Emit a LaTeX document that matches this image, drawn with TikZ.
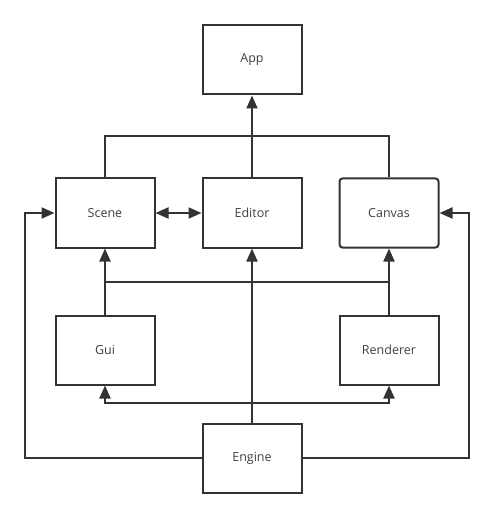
\documentclass[tikz,border=0pt]{standalone}
\usepackage{fontspec}
\setmainfont{Open Sans}
\usetikzlibrary{arrows.meta}
\definecolor{ink}{HTML}{333333}
\definecolor{txt}{HTML}{404040}
\begin{document}
\begin{tikzpicture}[x=1pt,y=-1pt,
  box/.style={draw=ink,line width=2pt,minimum width=99pt,minimum height=69pt,inner sep=0pt,
    font=\fontsize{12.5}{14}\selectfont,text=txt,fill=white},
  rbox/.style={box,rounded corners=3pt},
  conn/.style={draw=ink,line width=2pt},
  arr/.style={conn,-{Triangle[length=13pt,width=11pt]}},
  darr/.style={conn,{Triangle[length=13pt,width=11pt]}-{Triangle[length=13pt,width=11pt]}}]
\useasboundingbox (0,0) rectangle (494,518);
\node[box] (app) at (252,60) {App};
\node[box] (scene) at (105,213) {Scene};
\node[box] (editor) at (252,213) {Editor};
\node[rbox] (canvas) at (389,213) {Canvas};
\node[box] (gui) at (105,350) {Gui};
\node[box] (renderer) at (389,350) {Renderer};
\node[box] (engine) at (252,458) {Engine};
\coordinate (ttop) at (0,136);
\coordinate (tmid) at (0,282);
\coordinate (tlow) at (0,403);
\coordinate (lft) at (25,0);
\coordinate (rgt) at (469,0);
% top bus
\draw[conn] (scene.north) |- (canvas.north |- ttop) -- (canvas.north);
\draw[arr] (editor.north) -- (app.south);
% scene <-> editor
\draw[darr] (scene.east) -- (editor.west);
% middle bus
\draw[arr] (gui.north) -- (scene.south);
\draw[arr] (renderer.north) -- (canvas.south);
\draw[conn] (scene.south |- tmid) -- (canvas.south |- tmid);
% engine up to editor
\draw[arr] (engine.north) -- (editor.south);
% lower bus
\draw[arr] (engine.north |- tlow) -| (gui.south);
\draw[arr] (engine.north |- tlow) -| (renderer.south);
% sides
\draw[arr] (engine.west) -- (engine.west -| lft) |- (scene.west);
\draw[arr] (engine.east) -- (engine.east -| rgt) |- (canvas.east);
\end{tikzpicture}
\end{document}
